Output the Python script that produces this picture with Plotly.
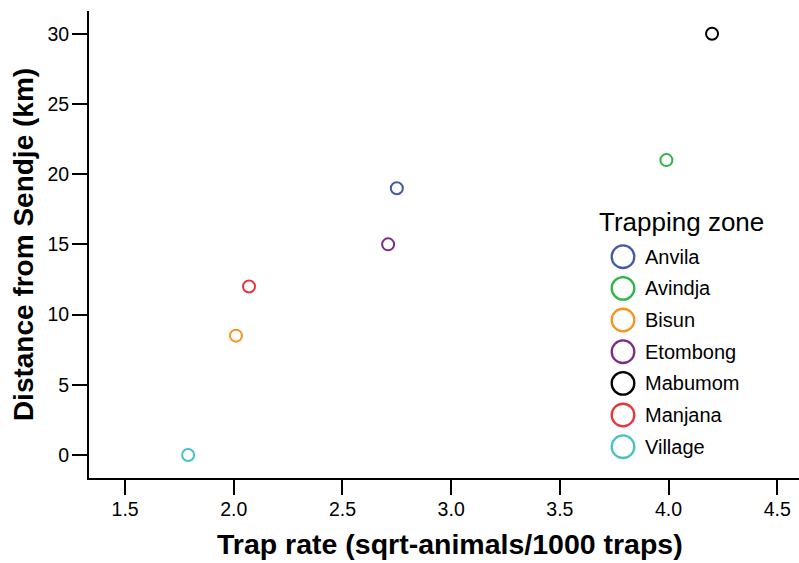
import plotly.graph_objects as go

# Trap rate vs distance per trapping zone
zones = ["Anvila", "Avindja", "Bisun", "Etombong", "Mabumom", "Manjana", "Village"]
trap_rate = [2.75, 3.99, 2.01, 2.71, 4.20, 2.07, 1.79]
distance_km = [19, 21, 8.5, 15, 30, 12, 0]
colours = ["#3F5BAA", "#2DB54A", "#F7931E", "#7B2C83", "#000000", "#E8333B", "#47C2C4"]

FONT = "Liberation Sans, Arial, Helvetica, sans-serif"
W, H = 799, 563
L, R, T, B = 89, 0, 11, 85
PW, PH = W - L - R, H - T - B

fig = go.Figure()
for name, x, y, col in zip(zones, trap_rate, distance_km, colours):
    fig.add_trace(go.Scatter(
        x=[x], y=[y], mode="markers", name=name, showlegend=False,
        marker=dict(symbol="circle-open", size=12, color=col, line=dict(width=2, color=col)),
    ))


def px_x(px):
    return (px - L) / PW


def px_y(py):
    return (H - B - py) / PH


# x title as annotation: it sits a little right of the plot-area centre
fig.add_annotation(text="<b>Trap rate (sqrt-animals/1000 traps)</b>",
                   x=px_x(449.5), y=px_y(543.5), xref="paper", yref="paper",
                   xanchor="center", yanchor="middle", showarrow=False,
                   font=dict(family=FONT, size=28.5, color="black"))

# --- hand-drawn legend (plotly caps legend symbols at 16px) ------------ #
fig.add_annotation(text="Trapping zone", x=px_x(597), y=px_y(222), xref="paper", yref="paper",
                   xanchor="left", yanchor="middle", showarrow=False,
                   font=dict(family=FONT, size=26, color="black"))
for i, (name, col) in enumerate(zip(zones, colours)):
    cy = px_y(256.7 + i * 31.67)
    fig.add_shape(type="circle", xref="paper", yref="paper", xsizemode="pixel", ysizemode="pixel",
                  xanchor=px_x(623), yanchor=cy, x0=-11.3, x1=11.3, y0=-11.3, y1=11.3,
                  line=dict(color=col, width=2.3), fillcolor="rgba(0,0,0,0)")
    fig.add_annotation(text=name, x=px_x(643), y=cy, xref="paper", yref="paper",
                       xanchor="left", yanchor="middle", showarrow=False,
                       font=dict(family=FONT, size=20, color="black"))

axis_common = dict(
    showline=True, linecolor="black", linewidth=2,
    ticks="outside", ticklen=15, tickwidth=2, tickcolor="black",
    showgrid=False, zeroline=False, automargin=False,
    tickfont=dict(family=FONT, size=19.5, color="black"),
)

fig.update_layout(
    width=W, height=H, showlegend=False,
    margin=dict(l=L, r=R, t=T, b=B),
    paper_bgcolor="white", plot_bgcolor="white",
    font=dict(family=FONT, color="black"),
    xaxis=dict(
        range=[1.334, 4.60], tickvals=[1.5, 2.0, 2.5, 3.0, 3.5, 4.0, 4.5],
        ticktext=["1.5", "2.0", "2.5", "3.0", "3.5", "4.0", "4.5"],
        ticklabelstandoff=-2,
        **axis_common,
    ),
    yaxis=dict(
        range=[-1.64, 31.62], tickvals=[0, 5, 10, 15, 20, 25, 30],
        title=dict(text="<b>Distance from Sendje (km)</b>",
                   font=dict(family=FONT, size=28), standoff=6),
        ticklabelstandoff=-1,
        **axis_common,
    ),
)

fig.write_html("out.html", config={"displayModeBar": False},
               post_script="document.body.style.margin='0';")
